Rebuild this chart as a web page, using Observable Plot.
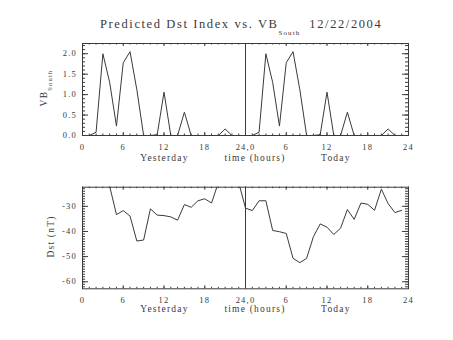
<!DOCTYPE html>
<html><head><meta charset="utf-8">
<script src="https://cdn.jsdelivr.net/npm/d3@7"></script>
<script src="https://cdn.jsdelivr.net/npm/@observablehq/plot@0.6"></script>
<style>
body{margin:0;background:#fff;}
svg{display:block;}
svg text{white-space:pre;}
</style></head><body><div id="chart"></div>
<script>
// ---- data ----
const hours = [0,1,2,3,4,5,6,7,8,9,10,11,12,13,14,15,16,17,18,19,20,21,22,23];
const vbYesterday = [0,0,0.08,2.0,1.3,0.23,1.78,2.05,1.12,0,0,0.02,1.06,0,0,0.57,0,0,0,0,0,0.16,0,0];
const vbToday     = [0,0,0.08,2.0,1.3,0.23,1.78,2.05,1.12,0,0,0.02,1.06,0,0,0.57,0,0,0,0,0,0.16,0,0];
const dstYesterday = [-18,-19,-20,-21,-22,-33.3,-31.7,-33.9,-43.8,-43.4,-31.0,-33.5,-33.7,-34.2,-35.5,-29.3,-30.4,-27.8,-27.0,-28.7,-20.6,-19,-19,-20.5];
const dstToday     = [-30.7,-31.7,-27.8,-27.8,-39.6,-40.1,-40.8,-50.7,-52.4,-50.7,-42.1,-37.0,-38.3,-41.2,-38.7,-31.3,-35.2,-28.7,-29.2,-31.6,-23.2,-28.9,-32.5,-31.6];
const xMajor = [0,6,12,18,24,30,36,42,48];
const xTickLabels = ["0","6","12","18","24,0","6","12","18","24"];
const vbTicks = [0,0.5,1.0,1.5,2.0];
const dstTicks = [-60,-50,-40,-30];
const titleMain = "Predicted Dst Index vs. VB";
const titleSub = "South";
const titleDate = "12/22/2004";
const xTitle = "Yesterday          time (hours)          Today";
const vbTitle = "VB", vbTitleSub = "South";
const dstTitle = "Dst (nT)";

// ---- layout ----
const W = 453;
const font = "'Liberation Serif','Times New Roman',serif";
const ink = "#3a3a3a";
const ML = 82, MR = 45;
const xMinor = d3.range(0, 49, 1);

const rows = [
  ...hours.map((h,i)=>({t:h, vb:vbYesterday[i], dst:dstYesterday[i]})),
  ...hours.map((h,i)=>({t:h+24, vb:vbToday[i], dst:dstToday[i]}))
];

function panel({height, marginTop, marginBottom, yDomain, yMajor, yMinor, yFormat, yKey, titleDy}) {
  const pw = W - ML - MR, ph = height - marginTop - marginBottom;
  return Plot.plot({
    width: W, height, marginTop, marginBottom, marginLeft: ML, marginRight: MR,
    x: {domain: [0,48]}, y: {domain: yDomain},
    style: {fontFamily: font, fontSize: "8.5px", letterSpacing: "1.2px", color: ink, background: "#fff"},
    marks: [
      Plot.tickX(xMinor, {x: d=>d, insetTop: ph-1.5, stroke: ink}),
      Plot.tickX(xMinor, {x: d=>d, insetBottom: ph-1.5, stroke: ink}),
      Plot.tickX(xMajor, {x: d=>d, insetTop: ph-3, stroke: ink}),
      Plot.tickX(xMajor, {x: d=>d, insetBottom: ph-3, stroke: ink}),
      Plot.tickY(yMinor, {y: d=>d, insetRight: pw-3, stroke: ink}),
      Plot.tickY(yMinor, {y: d=>d, insetLeft: pw-3, stroke: ink}),
      Plot.tickY(yMajor, {y: d=>d, insetRight: pw-6, stroke: ink}),
      Plot.tickY(yMajor, {y: d=>d, insetLeft: pw-6, stroke: ink}),
      Plot.frame({stroke: ink}),
      Plot.ruleX([24], {stroke: ink}),
      Plot.line(rows, {x: "t", y: yKey, stroke: ink, strokeWidth: 1, clip: true}),
      Plot.axisX(xMajor, {anchor: "bottom", tickSize: 0, tickPadding: 8, tickFormat: d => xTickLabels[xMajor.indexOf(d)], label: null}),
      Plot.axisY(yMajor, {anchor: "left", tickSize: 0, tickPadding: 5.5, tickFormat: yFormat, label: null}),
      Plot.text([xTitle], {text: d=>d, frameAnchor: "bottom", dy: titleDy, fontSize: 9.5, lineAnchor: "middle", fill: ink})
    ]
  });
}

const top1 = panel({height: 170, marginTop: 43, marginBottom: 35, yDomain: [0, 2.25],
  yMajor: vbTicks, yMinor: d3.range(0, 2.25, 0.1), yFormat: d3.format(".1f"), yKey: "vb", titleDy: 22.5});
const bot = panel({height: 170, marginTop: 16.7, marginBottom: 51.7, yDomain: [-62.8, -22.4],
  yMajor: dstTicks, yMinor: d3.range(-62, -22, 1), yFormat: d => String(d).replace("\u2212","-"), yKey: "dst", titleDy: 20.5});

const chart = document.getElementById("chart");
chart.appendChild(top1);
chart.appendChild(bot);

// title
const s1 = d3.select(top1);
const t = s1.append("text").attr("x", 100).attr("y", 28.3).attr("font-size", "12.5px").attr("text-anchor", "start")
  .attr("fill", ink).attr("letter-spacing", "1.6px").attr("font-family", font);
t.append("tspan").text(titleMain);
t.append("tspan").attr("font-size", "7px").attr("letter-spacing", "1.1px").attr("dy", 6.5).text(titleSub);
t.append("tspan").attr("dy", -6.5).attr("dx", 9).text(titleDate);

// y titles
const vt = s1.append("text").attr("transform", "translate(47,88) rotate(-90)").attr("text-anchor", "middle")
  .attr("font-size", "9.5px").attr("fill", ink).attr("letter-spacing", "1.2px").attr("font-family", font);
vt.append("tspan").text(vbTitle);
vt.append("tspan").attr("font-size", "6.5px").attr("dy", 5).text(vbTitleSub);

d3.select(bot).append("text").attr("transform", "translate(53.5,66.5) rotate(-90)").attr("text-anchor", "middle")
  .attr("font-size", "9.5px").attr("fill", ink).attr("letter-spacing", "1.2px").attr("font-family", font)
  .text(dstTitle);
</script></body></html>
